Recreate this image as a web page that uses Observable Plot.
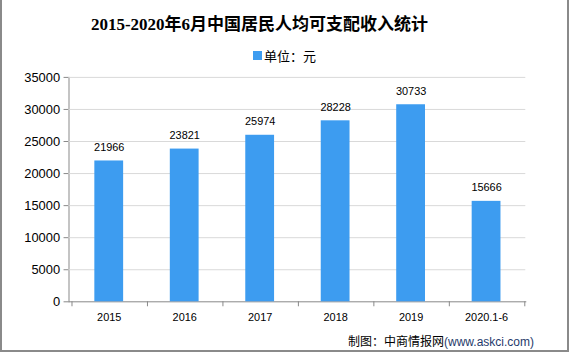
<!DOCTYPE html>
<html><head><meta charset="utf-8">
<script src="https://cdn.jsdelivr.net/npm/d3@7"></script>
<script src="https://cdn.jsdelivr.net/npm/@observablehq/plot@0.6"></script>
<style>
html,body{margin:0;padding:0;background:#fff;}
#wrap{position:relative;width:569px;height:352px;box-sizing:border-box;border-left:2px solid #8a8a8a;border-right:2px solid #8a8a8a;border-bottom:2px solid #8a8a8a;overflow:hidden;}
#title{position:absolute;left:0;top:10px;width:515px;text-align:center;font-family:"Liberation Serif","Noto Sans CJK SC",serif;font-weight:bold;font-size:17px;color:#000;white-space:nowrap;}
#legend{position:absolute;left:251px;top:46px;font-family:"Liberation Sans","Noto Sans CJK SC",sans-serif;font-size:13px;color:#000;white-space:nowrap;display:flex;align-items:center;}
#legend span.sw{display:inline-block;width:9px;height:9px;margin-right:2px;}
#chart{position:absolute;left:-2px;top:62px;}
#chart svg text{fill:#000;}
#caption{position:absolute;left:346px;top:334px;font-family:"Noto Sans CJK SC",sans-serif;font-size:12px;color:#000;white-space:nowrap;line-height:14px;}
#caption .url{font-family:"Liberation Sans",sans-serif;color:#1f3a6b;}
</style></head>
<body><div id="wrap">
<div id="title"></div>
<div id="legend"></div>
<div id="chart"></div>
<div id="caption"></div>
</div>
<script>
const categories = ["2015","2016","2017","2018","2019","2020.1-6"];
const values = [21966, 23821, 25974, 28228, 30733, 15666];
const yTicks = [0, 5000, 10000, 15000, 20000, 25000, 30000, 35000];
const titleText = "2015-2020年6月中国居民人均可支配收入统计";
const seriesName = "单位：元";
const captionLabel = "制图：中商情报网";
const captionUrl = "(www.askci.com)";
const barColor = "#3d9cf0";

const data = categories.map((c, i) => ({cat: c, value: values[i]}));

document.getElementById("title").textContent = titleText;
document.getElementById("legend").innerHTML = `<span class="sw" style="background:${barColor}"></span><span>${seriesName}</span>`;
document.getElementById("caption").innerHTML = `${captionLabel}<span class="url">${captionUrl}</span>`;

function boundaryTicks(a, b, c, d) {
  const scales = (b && b.x) ? b : a;
  const dims = d || b;
  const x = scales.x;
  const step = x.step(), bw = x.bandwidth();
  const y0 = dims.height - dims.marginBottom;
  const xs = x.domain().map(k => x(k) - (step - bw) / 2);
  xs.push(xs[xs.length - 1] + step);
  const g = d3.create("svg:g").attr("stroke", "#888").attr("stroke-width", 1);
  for (const v of xs) {
    g.append("line").attr("x1", Math.round(v) + 0.5).attr("x2", Math.round(v) + 0.5)
      .attr("y1", y0).attr("y2", y0 + 5);
  }
  return g.node();
}

const chart = Plot.plot({
  width: 571,
  height: 265,
  marginTop: 15,
  marginBottom: 24,
  marginLeft: 69,
  marginRight: 42,
  style: {fontFamily: "'Liberation Sans', sans-serif", color: "#888", background: "transparent", overflow: "visible"},
  x: {domain: categories, paddingInner: 0.62, paddingOuter: 0.31, tickSize: 0, tickPadding: 12, line: true, label: null},
  y: {domain: [0, 35000], ticks: yTicks, tickFormat: "d", tickSize: 5, tickPadding: 4, line: true, label: null},
  marks: [
    Plot.ruleY(yTicks.filter(t => t > 0), {stroke: "#d9d9d9", strokeWidth: 1}),
    Plot.barY(data, {x: "cat", y: "value", fill: barColor}),
    Plot.text(data, {x: "cat", y: "value", text: d => String(d.value), dy: -10, lineAnchor: "bottom", fill: "#000", fontSize: 11}),
    boundaryTicks
  ]
});
document.getElementById("chart").appendChild(chart);
// font sizes for axes
chart.querySelectorAll('[aria-label^="y-axis"] text, g[aria-label="y-axis"] text').forEach(t => t.setAttribute("font-size", "13"));
chart.querySelectorAll('[aria-label^="x-axis"] text, g[aria-label="x-axis"] text').forEach(t => t.setAttribute("font-size", "11"));
</script>
</body></html>
